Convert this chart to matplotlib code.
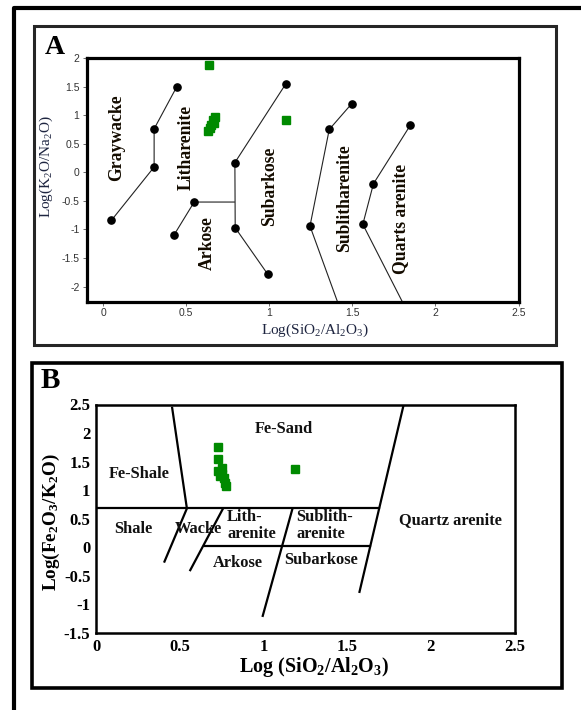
import matplotlib
matplotlib.use("Agg")
import matplotlib.pyplot as plt
from matplotlib.patches import Rectangle
from matplotlib.lines import Line2D

plt.rcParams['axes.unicode_minus'] = False
plt.rcParams['mathtext.default'] = 'regular'

# ---- panel A : log(SiO2/Al2O3) vs log(K2O/Na2O) classification ----
# boundary polylines (x, y) with the node markers
a_lines_x = [[0.05, 0.307, 0.307, 0.442],
             [0.426, 0.548, 0.79],
             [1.10, 0.793, 0.795, 0.99],
             [1.496, 1.361, 1.245, 1.41],
             [1.848, 1.627, 1.563, 1.80]]
a_lines_y = [[-0.84, 0.093, 0.76, 1.49],
             [-1.10, -0.52, -0.52],
             [1.55, 0.17, -0.97, -1.78],
             [1.20, 0.75, -0.94, -2.26],
             [0.82, -0.20, -0.91, -2.26]]
# which vertices carry a round node marker
a_nodes = [[0, 1, 2, 3], [0, 1], [0, 1, 2, 3], [0, 1, 2], [0, 1, 2]]

a_samples_x = [0.639, 0.634, 0.643, 0.649, 0.661, 0.667, 0.673, 1.10]
a_samples_y = [1.87, 0.73, 0.78, 0.82, 0.91, 0.87, 0.96, 0.91]

a_fields = ['Graywacke', 'Litharenite', 'Arkose', 'Subarkose',
            'Sublitharenite', 'Quarts arenite']
a_field_x = [0.08, 0.50, 0.63, 1.004, 1.452, 1.787]
a_field_y = [0.60, 0.44, -1.23, -0.24, -0.445, -0.81]

# ---- panel B : log(SiO2/Al2O3) vs log(Fe2O3/K2O) (Herron 1988) ----
b_lines_x = [[0.0, 1.688],
             [0.455, 0.543, 0.409],
             [0.759, 0.563],
             [0.653, 1.637],
             [1.174, 0.996],
             [1.835, 1.574]]
b_lines_y = [[0.68, 0.68],
             [2.44, 0.68, -0.25],
             [0.68, -0.40],
             [0.03, 0.03],
             [0.68, -1.20],
             [2.46, -0.78]]

b_samples_x = [0.731, 0.731, 0.731, 0.743, 0.755, 0.755, 0.767, 0.773, 0.779, 1.19]
b_samples_y = [1.75, 1.545, 1.34, 1.25, 1.28, 1.39, 1.21, 1.13, 1.07, 1.376]

b_fields = ['Fe-Sand', 'Fe-Shale', 'Shale', 'Wacke', 'Arkose', 'Subarkose',
            'Quartz arenite']
b_field_x = [1.12, 0.26, 0.224, 0.613, 0.847, 1.344, 2.115]
b_field_y = [2.07, 1.28, 0.315, 0.315, -0.28, -0.22, 0.48]
b_left_fields = ['Lith-\narenite', 'Sublith-\narenite']
b_left_x = [0.783, 1.198]
b_left_y = [0.39, 0.39]

ticks_x = [0, 0.5, 1, 1.5, 2, 2.5]
ticks_ya = [-2, -1.5, -1, -0.5, 0, 0.5, 1, 1.5, 2]
ticks_yb = [-1.5, -1, -0.5, 0, 0.5, 1, 1.5, 2, 2.5]

W, H = 581, 710
fig = plt.figure(figsize=(W / 100, H / 100), dpi=100)


def box(x0, y0, x1, y1):
    return [x0 / W, 1 - y1 / H, (x1 - x0) / W, (y1 - y0) / H]


def fmt(v):
    return ('%g' % v)


serif = 'Liberation Serif'
sans = 'Liberation Sans'
green = '#008a00'

# outer frame (cropped on the right and bottom)
fig.add_artist(Line2D([13.5 / W, 13.5 / W, 1.0], [0.0, 1 - 8 / H, 1 - 8 / H],
                      color='k', lw=3.0, transform=fig.transFigure))
fig.add_artist(Rectangle((34 / W, 1 - 345 / H), (556 - 34) / W, (345 - 26) / H,
                         fill=False, ec='#262626', lw=2.2, transform=fig.transFigure))
fig.add_artist(Rectangle((32 / W, 1 - 688 / H), (561.5 - 32) / W, (688 - 363) / H,
                         fill=False, ec='k', lw=2.6, transform=fig.transFigure))

# ----------------- A -----------------
axA = fig.add_axes(box(86.5, 58, 518.5, 301.5))
for xs, ys, nd in zip(a_lines_x, a_lines_y, a_nodes):
    axA.plot(xs, ys, color='#222222', lw=0.8, zorder=2)
    axA.plot([xs[i] for i in nd], [ys[i] for i in nd], 'o', color='k',
             ms=5.2, zorder=3)
axA.plot(a_samples_x, a_samples_y, 's', color=green, ms=5.5, mec=green, zorder=4)
for name, x, y in zip(a_fields, a_field_x, a_field_y):
    axA.text(x, y, name, rotation=90, ha='center', va='center',
             fontsize=12.7, fontweight='bold', family=serif, color='#140c00')
axA.set_xlim(-0.1, 2.5)
axA.set_ylim(-2.26, 2.0)
axA.set_xticks(ticks_x)
axA.set_xticklabels([fmt(t) for t in ticks_x])
axA.set_yticks(ticks_ya)
axA.set_yticklabels([fmt(t) for t in ticks_ya])
axA.tick_params(length=3, width=0.6, color='#555555', labelsize=7.5,
                labelcolor='#333333', pad=2)
for lab in axA.get_xticklabels() + axA.get_yticklabels():
    lab.set_family(sans)
for sp in axA.spines.values():
    sp.set_linewidth(2.3)

fig.text(46.7 / W, 1 - 166.7 / H, 'Log(K$_2$O/Na$_2$O)', rotation=90,
         ha='center', va='center', fontsize=11, family=serif, color='#1e2540')
fig.text(315 / W, 1 - 330 / H, 'Log(SiO$_2$/Al$_2$O$_3$)', ha='center',
         va='center', fontsize=11, family=serif, color='#1e2540')
fig.text(55 / W, 1 - 47 / H, 'A', ha='center', va='center', fontsize=20,
         fontweight='bold', family=serif)

# ----------------- B -----------------
axB = fig.add_axes(box(96, 404.5, 514.5, 633))
for xs, ys in zip(b_lines_x, b_lines_y):
    axB.plot(xs, ys, color='k', lw=1.6, zorder=2)
axB.plot(b_samples_x, b_samples_y, 's', color=green, ms=5.8, mec=green, zorder=4)
for name, x, y in zip(b_fields, b_field_x, b_field_y):
    axB.text(x, y, name, ha='center', va='center', fontsize=11.8,
             fontweight='bold', family=serif, color='#111111')
for name, x, y in zip(b_left_fields, b_left_x, b_left_y):
    axB.text(x, y, name, ha='left', va='center', fontsize=11.8, linespacing=1.08,
             fontweight='bold', family=serif, color='#111111')
axB.set_xlim(0, 2.5)
axB.set_ylim(-1.5, 2.5)
axB.set_xticks(ticks_x)
axB.set_xticklabels([fmt(t) for t in ticks_x])
axB.set_yticks(ticks_yb)
axB.set_yticklabels([fmt(t) for t in ticks_yb])
axB.tick_params(length=0, labelsize=12, pad=4)
for lab in axB.get_xticklabels() + axB.get_yticklabels():
    lab.set_family(serif)
    lab.set_fontweight('bold')
for sp in axB.spines.values():
    sp.set_linewidth(1.8)

fig.text(51.7 / W, 1 - 521.7 / H, 'Log(Fe$_2$O$_3$/K$_2$O)', rotation=90,
         ha='center', va='center', fontsize=13.8, fontweight='bold', family=serif)
fig.text(313.8 / W, 1 - 667.3 / H, 'Log (SiO$_2$/Al$_2$O$_3$)', ha='center',
         va='center', fontsize=14.5, fontweight='bold', family=serif)
fig.text(50 / W, 1 - 381 / H, 'B', ha='center', va='center', fontsize=21,
         fontweight='bold', family=serif)

fig.savefig('out.png', dpi=100)
